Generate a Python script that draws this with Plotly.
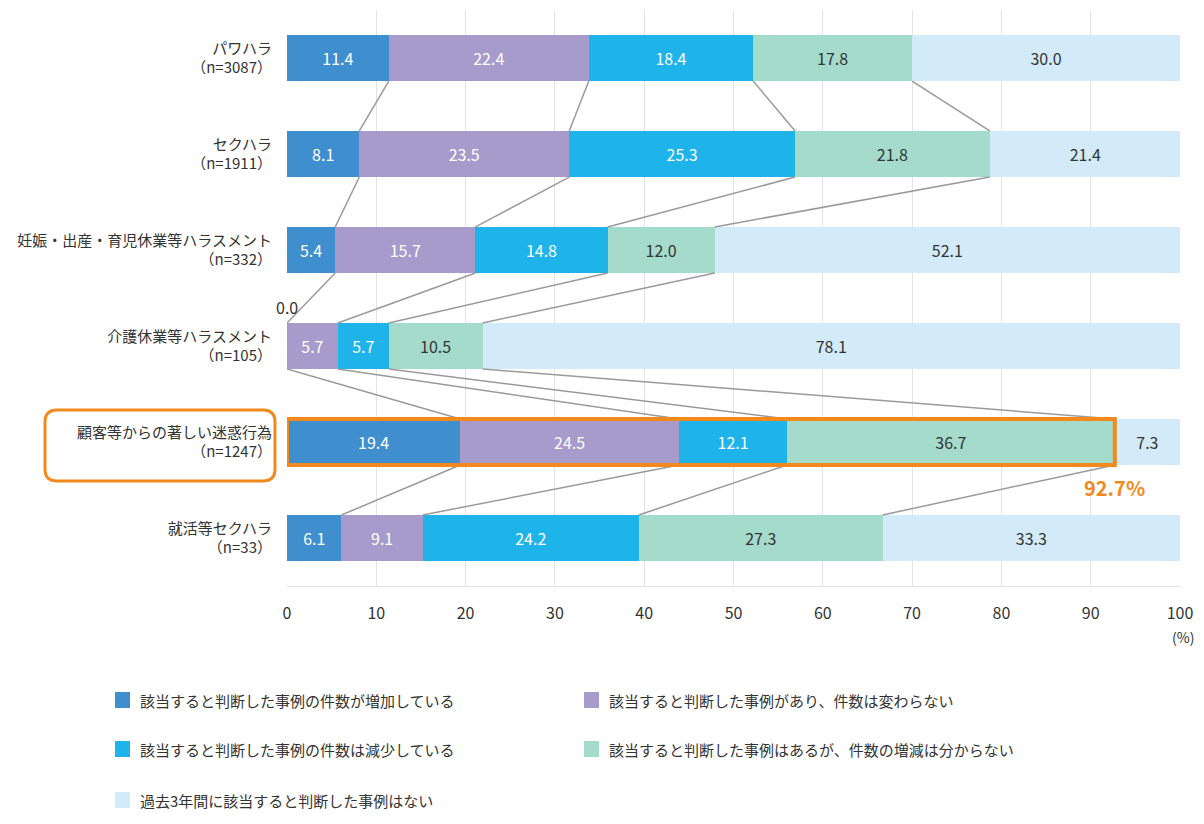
import plotly.graph_objects as go
import numpy as np

categories = ["パワハラ<br>（n=3087）", "セクハラ<br>（n=1911）", "妊娠・出産・育児休業等ハラスメント<br>（n=332）",
              "介護休業等ハラスメント<br>（n=105）", "顧客等からの著しい迷惑行為<br>（n=1247）", "就活等セクハラ<br>（n=33）"]
series_names = ["該当すると判断した事例の件数が増加している",
                "該当すると判断した事例があり、件数は変わらない",
                "該当すると判断した事例の件数は減少している",
                "該当すると判断した事例はあるが、件数の増減は分からない",
                "過去3年間に該当すると判断した事例はない"]
s1 = [11.4, 8.1, 5.4, 0.0, 19.4, 6.1]
s2 = [22.4, 23.5, 15.7, 5.7, 24.5, 9.1]
s3 = [18.4, 25.3, 14.8, 5.7, 12.1, 24.2]
s4 = [17.8, 21.8, 12.0, 10.5, 36.7, 27.3]
s5 = [30.0, 21.4, 52.1, 78.1, 7.3, 33.3]
x_ticks = [0, 10, 20, 30, 40, 50, 60, 70, 80, 90, 100]

colors = ["#3f8fcf", "#a69bcb", "#1eb4ea", "#a4dbcb", "#d3ebf8"]
text_colors = ["white", "white", "white", "#333333", "#333333"]
orange = "#f08a1c"
highlight = 4
FONT = "Noto Sans CJK JP"
BW = 0.48

series = [s1, s2, s3, s4, s5]
ypos = list(range(len(categories)))

fig = go.Figure()
for k, vals in enumerate(series):
    fig.add_trace(go.Bar(
        y=ypos, x=vals, orientation="h", name=series_names[k], width=BW,
        marker=dict(color=colors[k], line=dict(width=0)),
        texttemplate="%{x:.1f}", textposition="inside", insidetextanchor="middle",
        textfont=dict(color=text_colors[k], size=16, family=FONT),
        showlegend=False, hoverinfo="skip"))

# connector lines between cumulative boundaries
cum = np.cumsum(np.array(series), axis=0)  # shape (5, ncat)
for b in range(4):
    xs, ys = [], []
    for i in range(len(categories) - 1):
        xs += [cum[b][i], cum[b][i + 1], None]
        ys += [i + BW / 2, i + 1 - BW / 2, None]
    fig.add_trace(go.Scatter(x=xs, y=ys, mode="lines", line=dict(color="#9a9a9a", width=1.5),
                             showlegend=False, hoverinfo="skip"))

annotations = []
# zero-value labels
for k, vals in enumerate(series):
    for i, v in enumerate(vals):
        if v == 0:
            start = cum[k][i] - v
            annotations.append(dict(x=start, y=i - BW / 2, xref="x", yref="y", text=f"{v:.1f}",
                                    showarrow=False, xanchor="center", yanchor="bottom", yshift=2,
                                    font=dict(size=16, color="#333333", family=FONT)))

# highlight rectangle
fig.add_shape(type="rect", xref="x", yref="y", x0=0, x1=cum[3][highlight],
              y0=highlight - BW / 2, y1=highlight + BW / 2, line=dict(color=orange, width=4), layer="above")
annotations.append(dict(x=cum[3][highlight], y=highlight + BW / 2, xref="x", yref="y",
                        text=f"<b>{cum[3][highlight]:.1f}%</b>", showarrow=False, xanchor="center",
                        yanchor="top", yshift=-6, font=dict(size=20, color=orange, family=FONT)))

# rounded box around the highlighted category label
L, T, R, B = 287, 10, 1180, 586
W, H = R - L, B - T
def px(x): return (x - L) / W
def py(y): return (B - y) / H
x0, x1, y0, y1, r = 45, 275, 410, 481, 12
path = (f"M {px(x0+r)},{py(y0)} L {px(x1-r)},{py(y0)} Q {px(x1)},{py(y0)} {px(x1)},{py(y0+r)} "
        f"L {px(x1)},{py(y1-r)} Q {px(x1)},{py(y1)} {px(x1-r)},{py(y1)} "
        f"L {px(x0+r)},{py(y1)} Q {px(x0)},{py(y1)} {px(x0)},{py(y1-r)} "
        f"L {px(x0)},{py(y0+r)} Q {px(x0)},{py(y0)} {px(x0+r)},{py(y0)} Z")
fig.add_shape(type="path", path=path, xref="paper", yref="paper", line=dict(color=orange, width=3))

# (%) label
annotations.append(dict(x=1.0, y=py(637), xref="paper", yref="paper", text="(%)", showarrow=False,
                        xanchor="center", yanchor="middle", xshift=3,
                        font=dict(size=14, color="#333333", family=FONT)))

# manual legend
leg_pos = [(115, 700), (584, 700), (115, 749), (584, 749), (115, 800)]
for k, (lx, ly) in enumerate(leg_pos):
    fig.add_shape(type="rect", xref="paper", yref="paper", x0=px(lx), x1=px(lx + 15),
                  y0=py(ly + 8), y1=py(ly - 8), fillcolor=colors[k], line=dict(width=0))
    annotations.append(dict(x=px(lx + 23), y=py(ly), xref="paper", yref="paper", text=series_names[k],
                            showarrow=False, xanchor="left", yanchor="middle",
                            font=dict(size=15, color="#333333", family=FONT)))

fig.update_layout(
    width=1204, height=824, barmode="stack", plot_bgcolor="white", paper_bgcolor="white",
    margin=dict(l=L, r=1204 - R, t=T, b=824 - B),
    font=dict(family=FONT, color="#333333"),
    uniformtext=dict(minsize=15, mode="show"),
    annotations=annotations,
    xaxis=dict(range=[0, 100], tickvals=x_ticks, showgrid=True, gridcolor="#e3e3e3", gridwidth=1,
               zeroline=False, showline=True, linecolor="#e3e3e3", ticks="", ticklabelstandoff=13,
               automargin=False, tickfont=dict(size=16, color="#333333", family=FONT)),
    yaxis=dict(range=[len(categories) - 0.5, -0.5], tickvals=ypos, ticktext=categories,
               showgrid=False, zeroline=False, ticks="", ticklabelstandoff=14, automargin=False,
               tickfont=dict(size=15, color="#333333", family=FONT)),
)
fig.write_html("out.html")
